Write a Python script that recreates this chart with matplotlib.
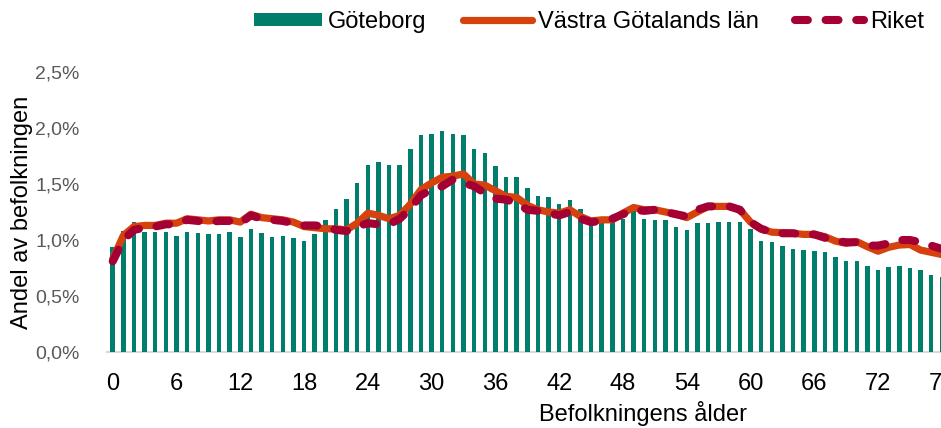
import matplotlib
matplotlib.use("Agg")
import matplotlib.pyplot as plt
from matplotlib.patches import Patch
from matplotlib.lines import Line2D
from matplotlib.ticker import FuncFormatter, MultipleLocator

plt.rcParams['font.family'] = ['Liberation Sans', 'DejaVu Sans']

ages = list(range(0, 79))

goteborg = [0.94, 1.08, 1.16, 1.07, 1.07, 1.07, 1.04, 1.07, 1.06, 1.05,
            1.05, 1.07, 1.03, 1.10, 1.06, 1.03, 1.04, 1.02, 0.99, 1.05,
            1.18, 1.28, 1.37, 1.51, 1.67, 1.70, 1.67, 1.67, 1.81, 1.94,
            1.95, 1.97, 1.95, 1.94, 1.81, 1.78, 1.66, 1.56, 1.56, 1.46,
            1.39, 1.38, 1.32, 1.36, 1.28, 1.15, 1.16, 1.16, 1.19, 1.27,
            1.19, 1.18, 1.18, 1.12, 1.09, 1.15, 1.15, 1.16, 1.16, 1.16,
            1.10, 0.99, 0.98, 0.95, 0.92, 0.91, 0.90, 0.89, 0.85, 0.81,
            0.81, 0.77, 0.73, 0.76, 0.77, 0.75, 0.73, 0.69, 0.67]

vastra_gotaland = [0.83, 1.04, 1.12, 1.13, 1.13, 1.15, 1.15, 1.19, 1.18, 1.17,
                   1.18, 1.18, 1.16, 1.23, 1.20, 1.19, 1.18, 1.16, 1.12, 1.11,
                   1.10, 1.10, 1.09, 1.15, 1.24, 1.22, 1.19, 1.22, 1.32, 1.45,
                   1.51, 1.56, 1.57, 1.59, 1.50, 1.49, 1.44, 1.39, 1.38, 1.31,
                   1.27, 1.25, 1.24, 1.27, 1.21, 1.17, 1.18, 1.18, 1.24, 1.29,
                   1.27, 1.27, 1.25, 1.23, 1.20, 1.25, 1.30, 1.30, 1.30, 1.27,
                   1.16, 1.10, 1.07, 1.065, 1.06, 1.05, 1.05, 1.03, 0.99, 0.97,
                   0.985, 0.94, 0.90, 0.935, 0.955, 0.96, 0.91, 0.89, 0.87]

riket = [0.81, 1.00, 1.09, 1.11, 1.12, 1.14, 1.14, 1.18, 1.17, 1.16,
         1.17, 1.17, 1.15, 1.22, 1.19, 1.18, 1.17, 1.15, 1.13, 1.13,
         1.12, 1.09, 1.08, 1.12, 1.15, 1.14, 1.14, 1.19, 1.28, 1.40,
         1.45, 1.48, 1.54, 1.51, 1.48, 1.42, 1.37, 1.36, 1.33, 1.27,
         1.26, 1.24, 1.22, 1.25, 1.19, 1.16, 1.17, 1.19, 1.23, 1.27,
         1.26, 1.27, 1.25, 1.23, 1.21, 1.27, 1.30, 1.30, 1.30, 1.27,
         1.16, 1.10, 1.07, 1.06, 1.06, 1.05, 1.05, 1.02, 0.99, 0.98,
         0.98, 0.95, 0.95, 0.97, 1.00, 1.00, 0.98, 0.95, 0.92]

x_ticks = list(range(0, 79, 6))
labels = ["Göteborg", "Västra Götalands län", "Riket"]

TEAL = "#007D6B"
ORANGE = "#D5420E"
CRIMSON = "#A50034"

W, H = 941, 428
fig = plt.figure(figsize=(W / 100, H / 100), dpi=100)

spacing = 10.63
left_px = 107.4
bottom_px = 352
top_px = 72
ax = fig.add_axes([left_px / W, (H - bottom_px) / H,
                   79 * spacing / W, (bottom_px - top_px) / H])

ax.bar(ages, goteborg, width=0.42, color=TEAL, zorder=2)
ax.plot(ages, vastra_gotaland, color=ORANGE, lw=5.2, solid_joinstyle='round',
        solid_capstyle='round', zorder=3)
ax.plot(ages, riket, color=CRIMSON, lw=5.8, linestyle=(0, (1.6, 2.2)),
        dash_capstyle='round', dash_joinstyle='round', zorder=4)

ax.set_xlim(-0.5, 78.5)
ax.set_ylim(0, 2.5)
ax.set_xticks(x_ticks)
ax.yaxis.set_major_locator(MultipleLocator(0.5))
ax.yaxis.set_major_formatter(FuncFormatter(lambda v, p: f"{v:.1f}%".replace(".", ",")))

for s in ["top", "right", "left"]:
    ax.spines[s].set_visible(False)
ax.spines["bottom"].set_color("#D9D9D9")
ax.spines["bottom"].set_linewidth(1.5)
ax.spines["bottom"].set_zorder(1)

ax.tick_params(axis='x', length=0, pad=15, labelsize=17, labelcolor="#000000")
ax.tick_params(axis='y', length=0, pad=20, labelsize=14, labelcolor="#595959")

fig.text(643 / W, 1 - 413 / H, "Befolkningens ålder", ha='center', va='center',
         fontsize=17, color="#000000")
fig.text(22 / W, 1 - 212 / H, "Andel av befolkningen", ha='center', va='center',
         rotation=90, fontsize=17, color="#000000")

handles = [Patch(facecolor=TEAL, edgecolor='none'),
           Line2D([0], [0], color=ORANGE, lw=5.2, solid_capstyle='round'),
           Line2D([0], [0], color=CRIMSON, lw=5.8, linestyle=(0, (1.6, 2.2)),
                  dash_capstyle='round')]
fig.legend(handles, labels, ncol=3, loc='center left',
           bbox_to_anchor=(254 / W, 1 - 22 / H), frameon=False, fontsize=17,
           handlelength=2.9, handleheight=0.5, handletextpad=0.25,
           columnspacing=1.55, borderaxespad=0, borderpad=0)

fig.savefig("out.png", dpi=100)
